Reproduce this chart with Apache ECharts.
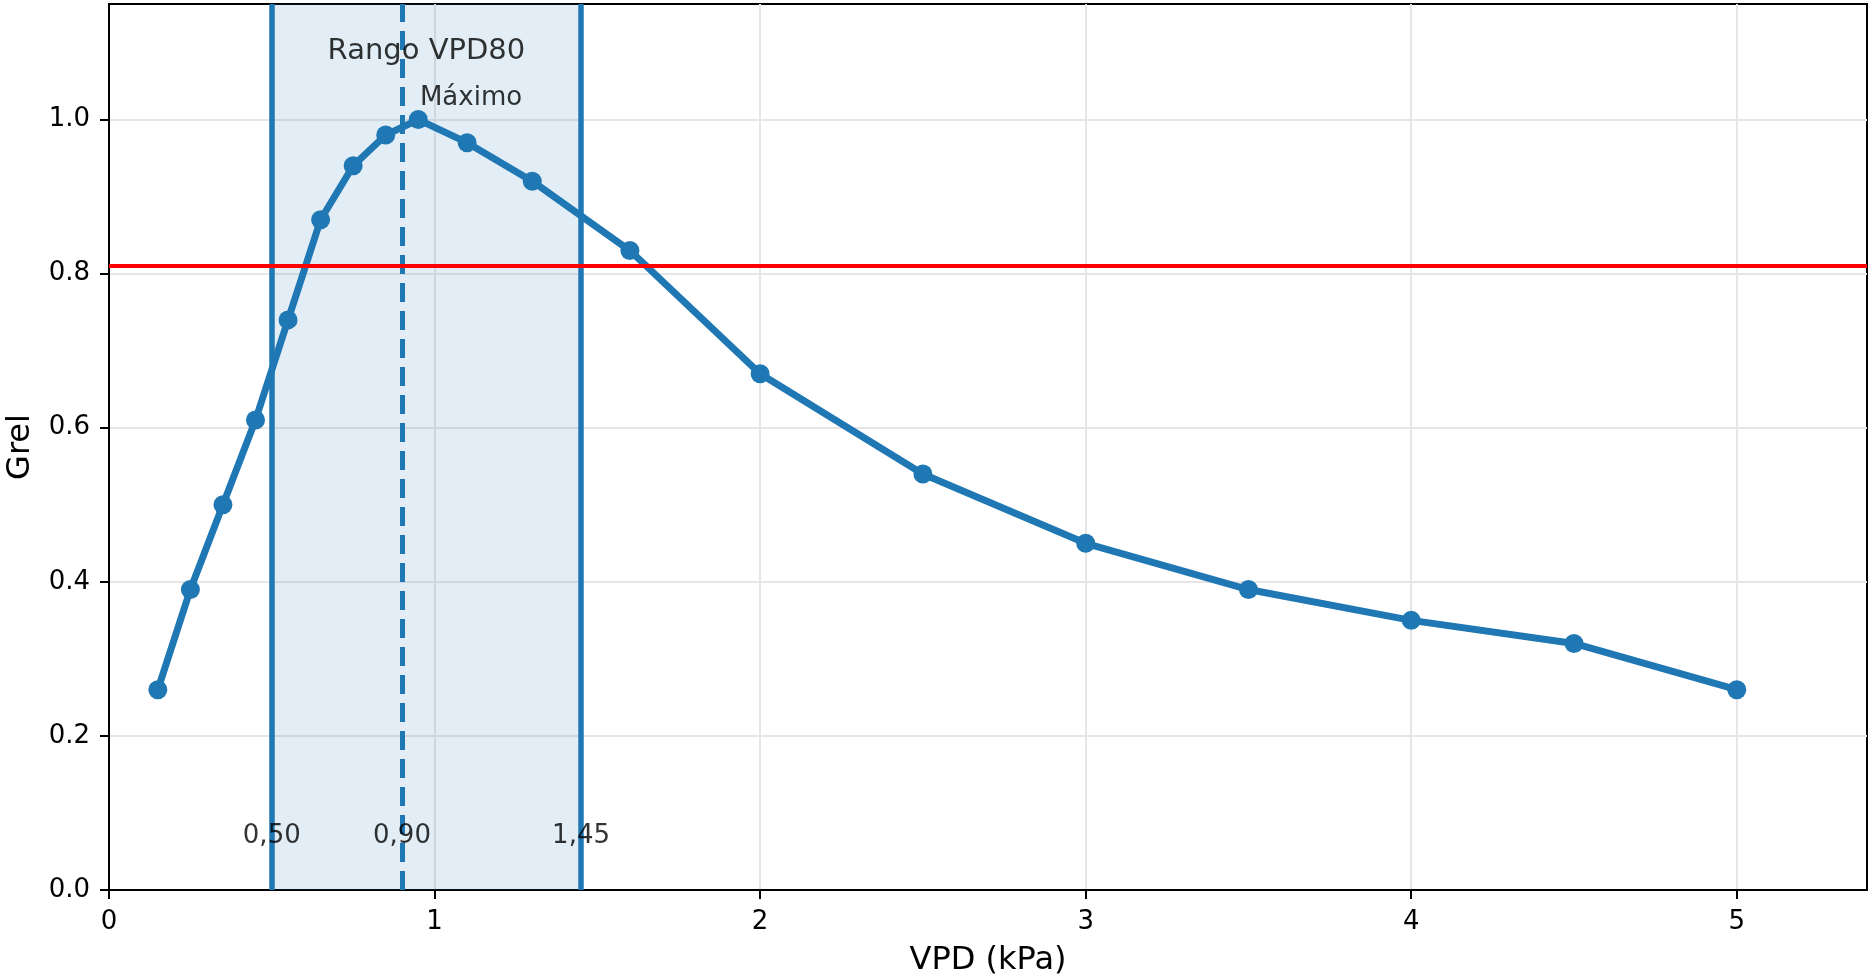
<!DOCTYPE html>
<html lang="es">

<head>
    <meta charset="UTF-8">
    <title>Grel vs VPD</title>
    <script src="https://cdn.jsdelivr.net/npm/echarts@6/dist/echarts.min.js"></script>
    <style>
        body,
        html {
            margin: 0;
            padding: 0;
            height: 100%;
            background: #fff;
        }

        #main {
            width: 1871px;
            height: 980px;
        }
    </style>
</head>

<body>
    <div id="main"></div>
    <script>
        // datos
        var vpd = [0.15, 0.25, 0.35, 0.45, 0.55, 0.65, 0.75, 0.85, 0.95, 1.1, 1.3, 1.6, 2.0, 2.5, 3.0, 3.5, 4.0, 4.5, 5.0];
        var grel = [0.26, 0.39, 0.50, 0.61, 0.74, 0.87, 0.94, 0.98, 1.00, 0.97, 0.92, 0.83, 0.67, 0.54, 0.45, 0.39, 0.35, 0.32, 0.26];

        var rangoMin = 0.50;
        var rangoMax = 1.45;
        var vpdOptimo = 0.90;
        var umbral = 0.812;
        var marcas = [0.50, 0.90, 1.45];
        var marcasTexto = ['0,50', '0,90', '1,45'];
        var marcasY = 0.07;

        var xTicks = [0, 1, 2, 3, 4, 5];
        var yTicks = [0, 0.2, 0.4, 0.6, 0.8, 1.0];

        var azul = '#1f77b4';
        var fuente = 'DejaVu Sans';

        var puntos = [];
        for (var i = 0; i < vpd.length; i++) {
            puntos.push([vpd[i], grel[i]]);
        }

        var etiquetas = [];
        for (var i = 0; i < marcas.length; i++) {
            etiquetas.push({ value: [marcas[i], marcasY], label: { formatter: marcasTexto[i], color: '#000' } });
        }

        var myChart = echarts.init(document.getElementById('main'));
        var option = {
            animation: false,
            grid: {
                left: 109,
                right: 4,
                top: 4,
                bottom: 90,
                outerBoundsMode: 'none',
                containLabel: false,
                show: true,
                borderColor: '#000',
                borderWidth: 2,
                backgroundColor: 'transparent'
            },
            xAxis: {
                type: 'value',
                min: 0,
                max: 5.4,
                interval: 1,
                name: 'VPD (kPa)',
                nameLocation: 'middle',
                nameGap: 55,
                nameTextStyle: { fontFamily: fuente, fontSize: 32, color: '#000' },
                axisLine: { show: true, onZero: false, lineStyle: { color: '#000', width: 2 } },
                axisTick: { show: true, length: 9, customValues: xTicks, lineStyle: { color: '#000', width: 2 } },
                axisLabel: {
                    customValues: xTicks,
                    margin: 19,
                    fontFamily: fuente,
                    fontSize: 26,
                    color: '#000'
                },
                splitLine: { show: true, lineStyle: { color: '#e6e6e6', width: 2 } }
            },
            yAxis: {
                type: 'value',
                min: 0,
                max: 1.15,
                interval: 0.2,
                name: 'Grel',
                nameLocation: 'middle',
                nameGap: 72,
                nameTextStyle: { fontFamily: fuente, fontSize: 32, color: '#000' },
                axisLine: { show: true, lineStyle: { color: '#000', width: 2 } },
                axisTick: { show: true, length: 9, customValues: yTicks, lineStyle: { color: '#000', width: 2 } },
                axisLabel: {
                    customValues: yTicks,
                    margin: 19,
                    fontFamily: fuente,
                    fontSize: 26,
                    color: '#000',
                    formatter: function (v) { return v.toFixed(1); }
                },
                splitLine: { show: true, lineStyle: { color: '#e6e6e6', width: 2 } }
            },
            series: [
                { // banda sombreada
                    type: 'line',
                    data: [],
                    z: 1,
                    silent: true,
                    markArea: {
                        silent: true,
                        itemStyle: { color: 'rgba(31,119,180,0.13)' },
                        data: [[{ xAxis: rangoMin }, { xAxis: rangoMax }]]
                    }
                },
                { // lineas verticales
                    type: 'line',
                    data: [],
                    z: 2,
                    silent: true,
                    markLine: {
                        silent: true,
                        symbol: 'none',
                        label: { show: false },
                        data: [
                            { xAxis: rangoMin, lineStyle: { color: azul, width: 5.5, type: 'solid' } },
                            { xAxis: rangoMax, lineStyle: { color: azul, width: 5.5, type: 'solid' } },
                            { xAxis: vpdOptimo, lineStyle: { color: azul, width: 5, type: [19, 9] } }
                        ]
                    }
                },
                {
                    name: 'Grel',
                    type: 'line',
                    data: puntos,
                    z: 3,
                    symbol: 'circle',
                    symbolSize: 19,
                    lineStyle: { color: azul, width: 7 },
                    itemStyle: { color: azul }
                },
                { // umbral rojo
                    type: 'line',
                    data: [],
                    z: 4,
                    silent: true,
                    markLine: {
                        silent: true,
                        symbol: 'none',
                        label: { show: false },
                        lineStyle: { color: '#ff0000', width: 4, type: 'solid' },
                        data: [{ yAxis: umbral }]
                    }
                },
                { // textos
                    type: 'scatter',
                    z: 5,
                    symbolSize: 0,
                    silent: true,
                    label: {
                        show: true,
                        position: 'inside',
                        fontFamily: fuente,
                        fontSize: 26,
                        color: '#000'
                    },
                    data: etiquetas.concat([
                        {
                            value: [(rangoMin + rangoMax) / 2, 1.089],
                            label: { formatter: 'Rango VPD80', fontSize: 29, color: '#000' }
                        },
                        {
                            value: [0.955, 1.028],
                            label: { formatter: 'Máximo', fontSize: 26, color: '#000', position: 'right', distance: 0 }
                        }
                    ])
                }
            ]
        };
        myChart.setOption(option);
    </script>
</body>

</html>
